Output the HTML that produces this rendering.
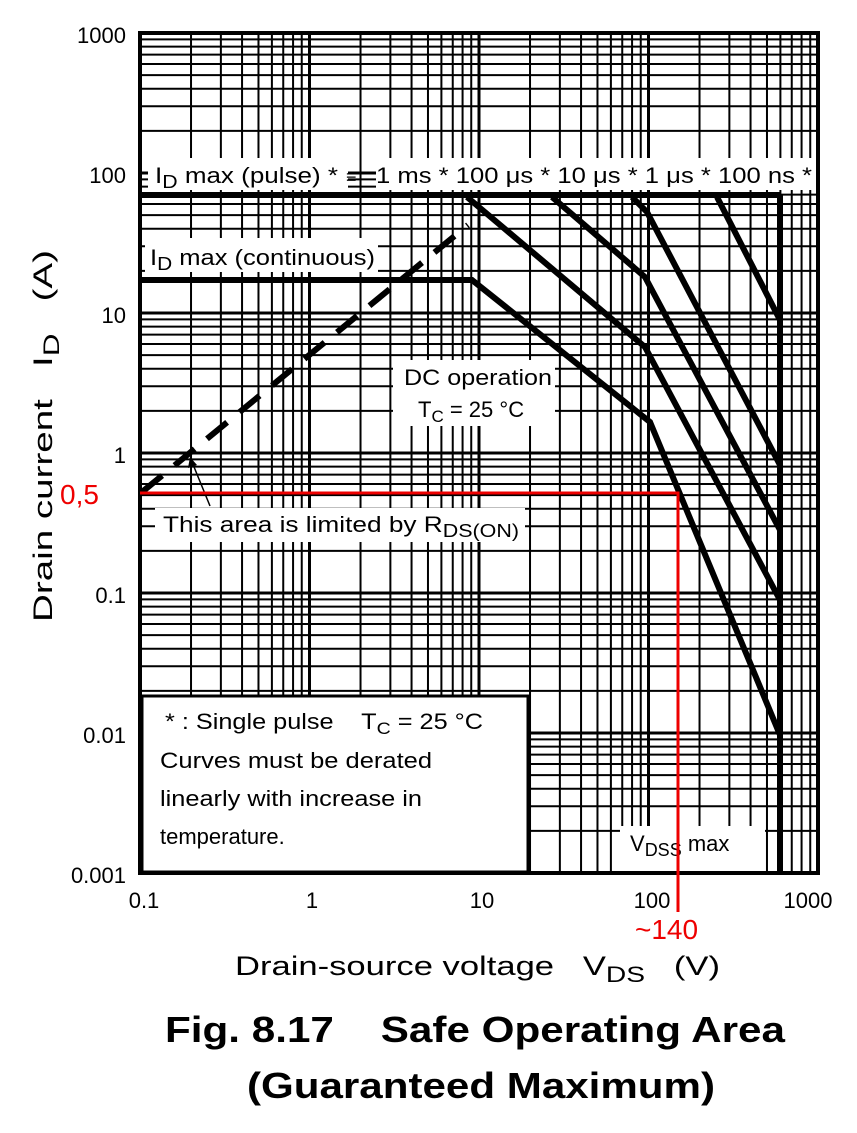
<!DOCTYPE html>
<html><head><meta charset="utf-8"><style>
body{margin:0;background:#fff}
svg{display:block;font-family:"Liberation Sans",Arial,sans-serif}
text{white-space:pre}
</style></head><body>
<svg id="s" width="857" height="1133" viewBox="0 0 857 1133" xmlns="http://www.w3.org/2000/svg" xml:space="preserve">
<rect width="857" height="1133" fill="#fff"/>
<g id="grid" stroke="#000" stroke-width="2"></g>
<rect x="142" y="696" width="386" height="176" fill="#fff" stroke="#000" stroke-width="3"/>
<rect x="620" y="826" width="145" height="46" fill="#fff"/>
<rect x="376" y="158" width="440" height="32" fill="#fff"/>
<rect x="148" y="158" width="200" height="32" fill="#fff"/>
<rect x="145" y="238" width="233" height="34" fill="#fff"/>
<rect x="393" y="360" width="162" height="66" fill="#fff"/>
<rect x="155" y="508" width="370" height="34" fill="#fff"/>
<g stroke="#000" stroke-width="6" fill="none" stroke-linejoin="miter">
<polyline points="140,195 780,195"/>
<polyline points="140,280 472,280 650,422 780,735"/>
<polyline points="467,197 645,347 780,600"/>
<polyline points="552,197 645,277 780,530"/>
<polyline points="632,197 647,212 780,465"/>
<polyline points="717,197 780,320"/>
<line x1="780" y1="195" x2="780" y2="873"/>
<polyline points="142,492 468,225" stroke-dasharray="26,16"/>
</g>
<rect x="140" y="33" width="678" height="840" fill="none" stroke="#000" stroke-width="4"/>
<line x1="210" y1="506" x2="192" y2="462" stroke="#000" stroke-width="1.5"/>
<polygon points="190,457 188,468 197,465" fill="#000"/>
<g font-size="22" fill="#000">
<text x="155" y="183" textLength="183" lengthAdjust="spacingAndGlyphs">I<tspan font-size="18" dy="5">D</tspan><tspan dy="-5"> max (pulse) *</tspan></text>
<text x="346" y="183" font-size="18">≡</text>
<text x="376" y="183" textLength="436" lengthAdjust="spacingAndGlyphs">1 ms * 100 μs * 10 μs * 1 μs * 100 ns *</text>
<text x="150" y="265" textLength="225" lengthAdjust="spacingAndGlyphs">I<tspan font-size="18" dy="5">D</tspan><tspan dy="-5"> max (continuous)</tspan></text>
<text x="404" y="385" textLength="148" lengthAdjust="spacingAndGlyphs">DC operation</text>
<text x="418" y="417">T<tspan font-size="17" dy="5">C</tspan><tspan dy="-5"> = 25 °C</tspan></text>
<text x="163" y="532" textLength="356" lengthAdjust="spacingAndGlyphs">This area is limited by R<tspan font-size="18" dy="5">DS(ON)</tspan></text>
<text x="165" y="729" textLength="318" lengthAdjust="spacingAndGlyphs">* : Single pulse    T<tspan font-size="17" dy="5">C</tspan><tspan dy="-5"> = 25 °C</tspan></text>
<text x="160" y="768" textLength="272" lengthAdjust="spacingAndGlyphs">Curves must be derated</text>
<text x="160" y="806" textLength="262" lengthAdjust="spacingAndGlyphs">linearly with increase in</text>
<text x="160" y="844">temperature.</text>
<text x="630" y="851">V<tspan font-size="18" dy="5">DSS</tspan><tspan dy="-5"> max</tspan></text>
</g>
<g font-size="22" fill="#000" text-anchor="end">
<text x="126" y="43">1000</text><text x="126" y="183">100</text><text x="126" y="323">10</text>
<text x="126" y="463">1</text><text x="126" y="603">0.1</text><text x="126" y="743">0.01</text><text x="126" y="883">0.001</text>
</g>
<g font-size="22" fill="#000" text-anchor="middle">
<text x="144" y="908">0.1</text><text x="312" y="908">1</text><text x="482" y="908">10</text>
<text x="652" y="908">100</text><text x="808" y="908">1000</text>
</g>
<polyline points="140,493 678,493 678,912" stroke="#e00" stroke-width="3" fill="none"/>
<text x="60" y="504" font-size="28" fill="#e00">0,5</text>
<text x="635" y="939" font-size="28" fill="#e00">~140</text>
<text transform="translate(52,622) rotate(-90)" font-size="27" fill="#000" textLength="372" lengthAdjust="spacingAndGlyphs">Drain current   I<tspan font-size="22" dy="7">D</tspan><tspan dy="-7">   (A)</tspan></text>
<text x="235" y="975" font-size="27" fill="#000" textLength="485" lengthAdjust="spacingAndGlyphs">Drain-source voltage   V<tspan font-size="22" dy="7">DS</tspan><tspan dy="-7">   (V)</tspan></text>
<text x="165" y="1042" font-size="36" font-weight="bold" textLength="620" lengthAdjust="spacingAndGlyphs">Fig. 8.17    Safe Operating Area</text>
<text x="247" y="1098" font-size="36" font-weight="bold" textLength="468" lengthAdjust="spacingAndGlyphs">(Guaranteed Maximum)</text>
</svg>
<script>
var g=document.getElementById('grid'),s='';
var x0=140,dx=169.5,y0=873,dy=140;
for(var d=0;d<4;d++)for(var m=1;m<10;m++){var x=x0+dx*(d+Math.log10(m));s+='<line x1="'+x+'" y1="33" x2="'+x+'" y2="873" stroke-width="'+(m==1?3:2)+'"/>';}
for(var d=0;d<6;d++)for(var m=1;m<10;m++){var y=y0-dy*(d+Math.log10(m));s+='<line x1="140" y1="'+y+'" x2="818" y2="'+y+'" stroke-width="'+(m==1?3:2)+'"/>';}
g.innerHTML=s;
</script>
</body></html>
